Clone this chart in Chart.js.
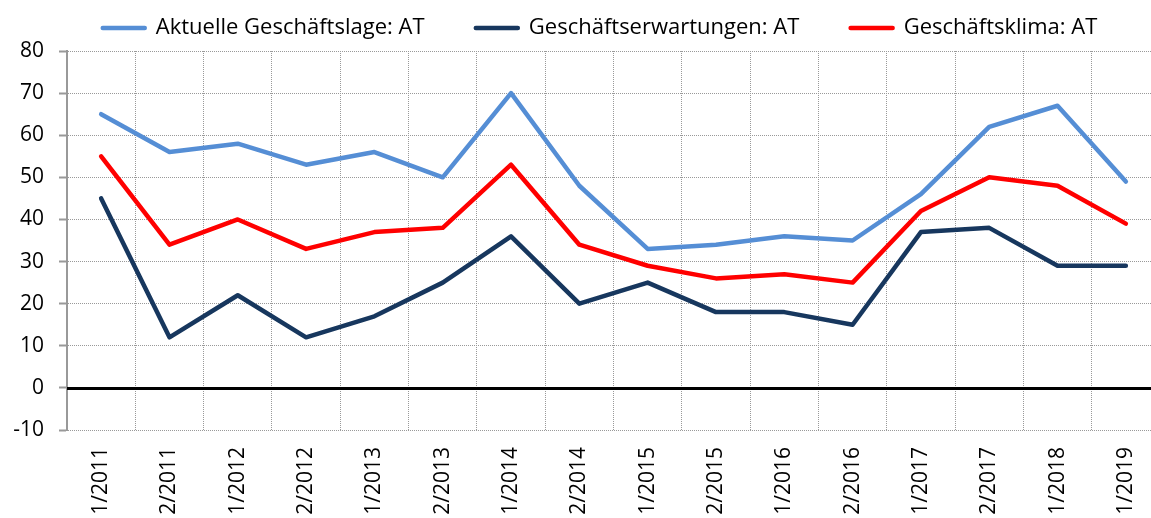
<!DOCTYPE html>
<html>
<head>
<meta charset="utf-8">
<script src="https://cdn.jsdelivr.net/npm/chart.js@4.4.1/dist/chart.umd.min.js"></script>
<style>
  html, body { margin: 0; padding: 0; background: #fff; overflow: hidden; width: 1151px; height: 518px; }
  #wrap { position: absolute; left: 0; top: 0; width: 1200px; height: 518px; }
</style>
</head>
<body>
<div id="wrap"><canvas id="c" width="1200" height="518"></canvas></div>
<script>
const categories = ["1/2011","2/2011","1/2012","2/2012","1/2013","2/2013","1/2014","2/2014","1/2015","2/2015","1/2016","2/2016","1/2017","2/2017","1/2018","1/2019"];
const seriesNames = ["Aktuelle Geschäftslage: AT", "Geschäftserwartungen: AT", "Geschäftsklima: AT"];
const aktuelleLage = [65, 56, 58, 53, 56, 50, 70, 48, 33, 34, 36, 35, 46, 62, 67, 49];
const erwartungen  = [45, 12, 22, 12, 17, 25, 36, 20, 25, 18, 18, 15, 37, 38, 29, 29];
const klima        = [55, 34, 40, 33, 37, 38, 53, 34, 29, 26, 27, 25, 42, 50, 48, 39];
const yMin = -10, yMax = 80, yStep = 10;

const colors = ["#558ED5", "#17375E", "#FF0000"];
const FONT = "'Open Sans', 'Noto Sans', sans-serif";
const legendSpacer = "      ";

const zeroLine = {
  id: 'zeroLine',
  beforeDatasetsDraw(chart) {
    const { ctx, chartArea, scales } = chart;
    const py = Math.round(scales.y.getPixelForValue(0)) + 0.5;
    ctx.save();
    ctx.strokeStyle = '#000';
    ctx.lineWidth = 3;
    ctx.beginPath();
    ctx.moveTo(chartArea.left, py);
    ctx.lineTo(chartArea.right, py);
    ctx.stroke();
    ctx.restore();
  }
};

const legendHeight = {
  id: 'legendHeight',
  beforeInit(chart) {
    const fit = chart.legend.fit;
    chart.legend.fit = function () {
      fit.call(this);
      this.height = 51;
    };
  }
};

const ds = [aktuelleLage, erwartungen, klima].map((vals, i) => ({
  label: seriesNames[i],
  data: vals,
  borderColor: colors[i],
  backgroundColor: colors[i],
  borderWidth: 4.5,
  pointRadius: 0,
  pointHoverRadius: 0,
  tension: 0,
  borderJoinStyle: 'round',
  borderCapStyle: 'round',
  fill: false
}));

new Chart(document.getElementById('c'), {
  type: 'line',
  data: { labels: categories, datasets: ds },
  options: {
    responsive: false,
    animation: false,
    devicePixelRatio: 1,
    layout: { padding: 0 },
    plugins: {
      tooltip: { enabled: false },
      legend: {
        position: 'top',
        align: 'center',
        labels: {
          usePointStyle: true,
          pointStyle: 'line',
          pointStyleWidth: 42,
          padding: 17,
          color: '#000',
          font: { family: FONT, size: 22 },
          generateLabels(chart) {
            const items = Chart.defaults.plugins.legend.labels.generateLabels(chart);
            items.forEach((it, i) => {
              it.pointStyle = 'line';
              it.lineWidth = 4.5;
              it.lineCap = 'round';
              if (i < items.length - 1) it.text = it.text + legendSpacer;
            });
            return items;
          }
        }
      }
    },
    scales: {
      x: {
        type: 'category',
        offset: true,
        grid: { display: true, offset: true, drawTicks: false, color: '#999', lineWidth: 1 },
        border: { display: false, dash: [1, 1] },
        ticks: {
          minRotation: 90, maxRotation: 90, autoSkip: false,
          padding: 17, color: '#000',
          font: { family: FONT, size: 21 }
        },
        afterFit(s) { s.height = 88; }
      },
      y: {
        min: yMin, max: yMax,
        grid: { color: '#999', lineWidth: 1, drawTicks: true, tickLength: 8, tickColor: '#999', tickWidth: 2 },
        border: { display: true, color: '#999', width: 2, dash: [1, 1] },
        ticks: { stepSize: yStep, padding: 15, color: '#000', font: { family: FONT, size: 21 } },
        afterFit(s) { s.width = 67; }
      },
      y2: {
        position: 'right',
        display: true,
        grid: { display: false, drawOnChartArea: false, drawTicks: false },
        border: { display: false },
        ticks: { display: false },
        afterFit(s) { s.width = 40; }
      }
    }
  },
  plugins: [zeroLine, legendHeight]
});
</script>
</body>
</html>
